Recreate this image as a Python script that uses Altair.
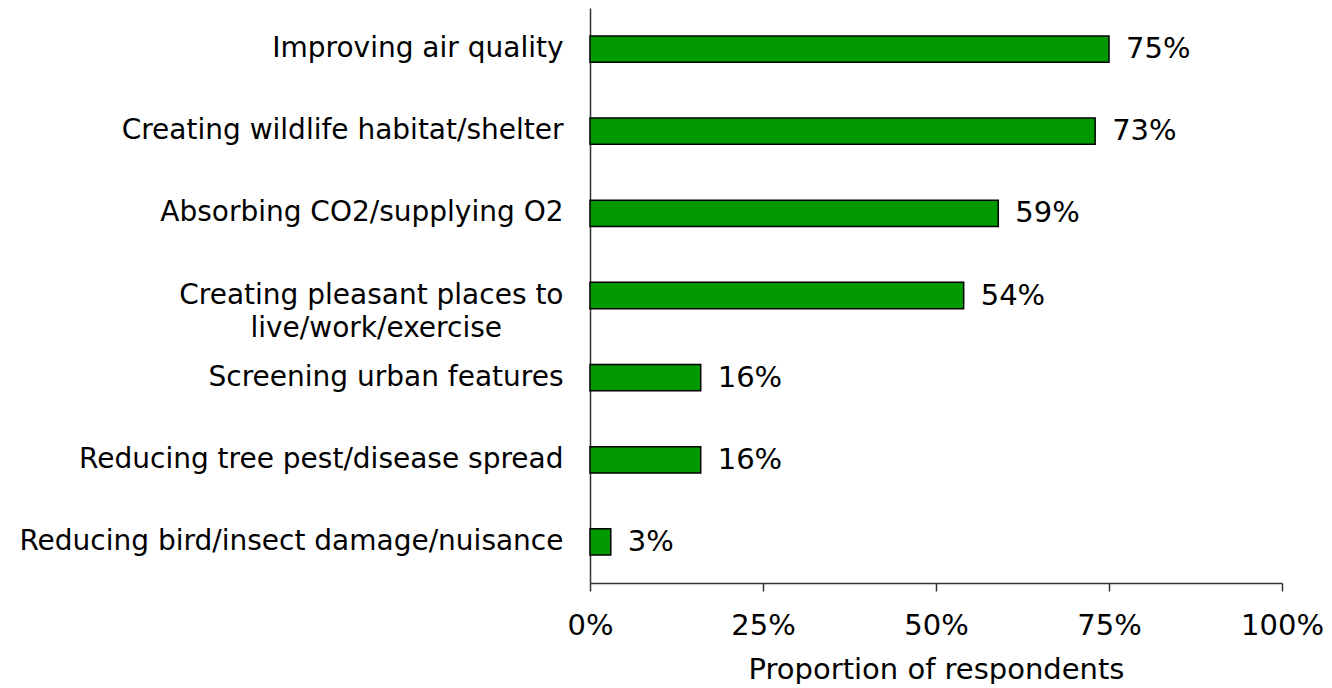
import altair as alt
import pandas as pd

BLANK = "\u2800"

categories = [
    "Improving air quality",
    "Creating wildlife habitat/shelter",
    "Absorbing CO2/supplying O2",
    "Creating pleasant places to\nlive/work/exercise" + BLANK * 3,
    "Screening urban features",
    "Reducing tree pest/disease spread",
    "Reducing bird/insect damage/nuisance",
]
values = [0.75, 0.73, 0.59, 0.54, 0.16, 0.16, 0.03]
labels = ["75%", "73%", "59%", "54%", "16%", "16%", "3%"]

df = pd.DataFrame({"cat": categories, "val": values, "lab": labels})

FONT = "DejaVu Sans"

y_enc = alt.Y(
    "cat:N",
    sort=categories,
    scale=alt.Scale(paddingInner=0.68, paddingOuter=0.34),
    axis=alt.Axis(
        title=None,
        ticks=False,
        grid=False,
        labelFontSize=28,
        labelFont=FONT,
        labelColor="#000000",
        labelPadding=27,
        labelLimit=0,
        labelLineHeight=33,
        labelExpr="split(datum.label, '\\n')",
        domainColor="#333333",
        domainWidth=1.5,
    ),
)

bars = alt.Chart(df).mark_bar(color="#009900", stroke="#000000", strokeWidth=1.5).encode(
    x=alt.X(
        "val:Q",
        scale=alt.Scale(domain=[0, 1]),
        axis=alt.Axis(
            title="Proportion of respondents",
            format=".0%",
            values=[0, 0.25, 0.5, 0.75, 1.0],
            grid=False,
            labelFlush=False,
            tickSize=8,
            tickColor="#333333",
            tickWidth=1.5,
            domainColor="#333333",
            domainWidth=1.5,
            labelFontSize=29,
            labelFont=FONT,
            labelColor="#000000",
            labelPadding=20,
            titleFontSize=29,
            titleFont=FONT,
            titleFontWeight="normal",
            titleColor="#000000",
            titlePadding=15,
        ),
    ),
    y=y_enc,
)

text = alt.Chart(df).mark_text(
    align="left", baseline="middle", dx=17, fontSize=29, font=FONT, color="#000000"
).encode(
    x="val:Q",
    y=alt.Y("cat:N", sort=categories),
    text="lab:N",
)

chart = (
    alt.layer(bars, text)
    .properties(
        width=692,
        height=575,
        background="white",
        padding={"left": 10, "top": 0, "right": 0, "bottom": 0},
    )
    .configure_view(strokeWidth=0, stroke="transparent")
)

chart.save("out.html", embed_options={"renderer": "svg", "actions": False})
